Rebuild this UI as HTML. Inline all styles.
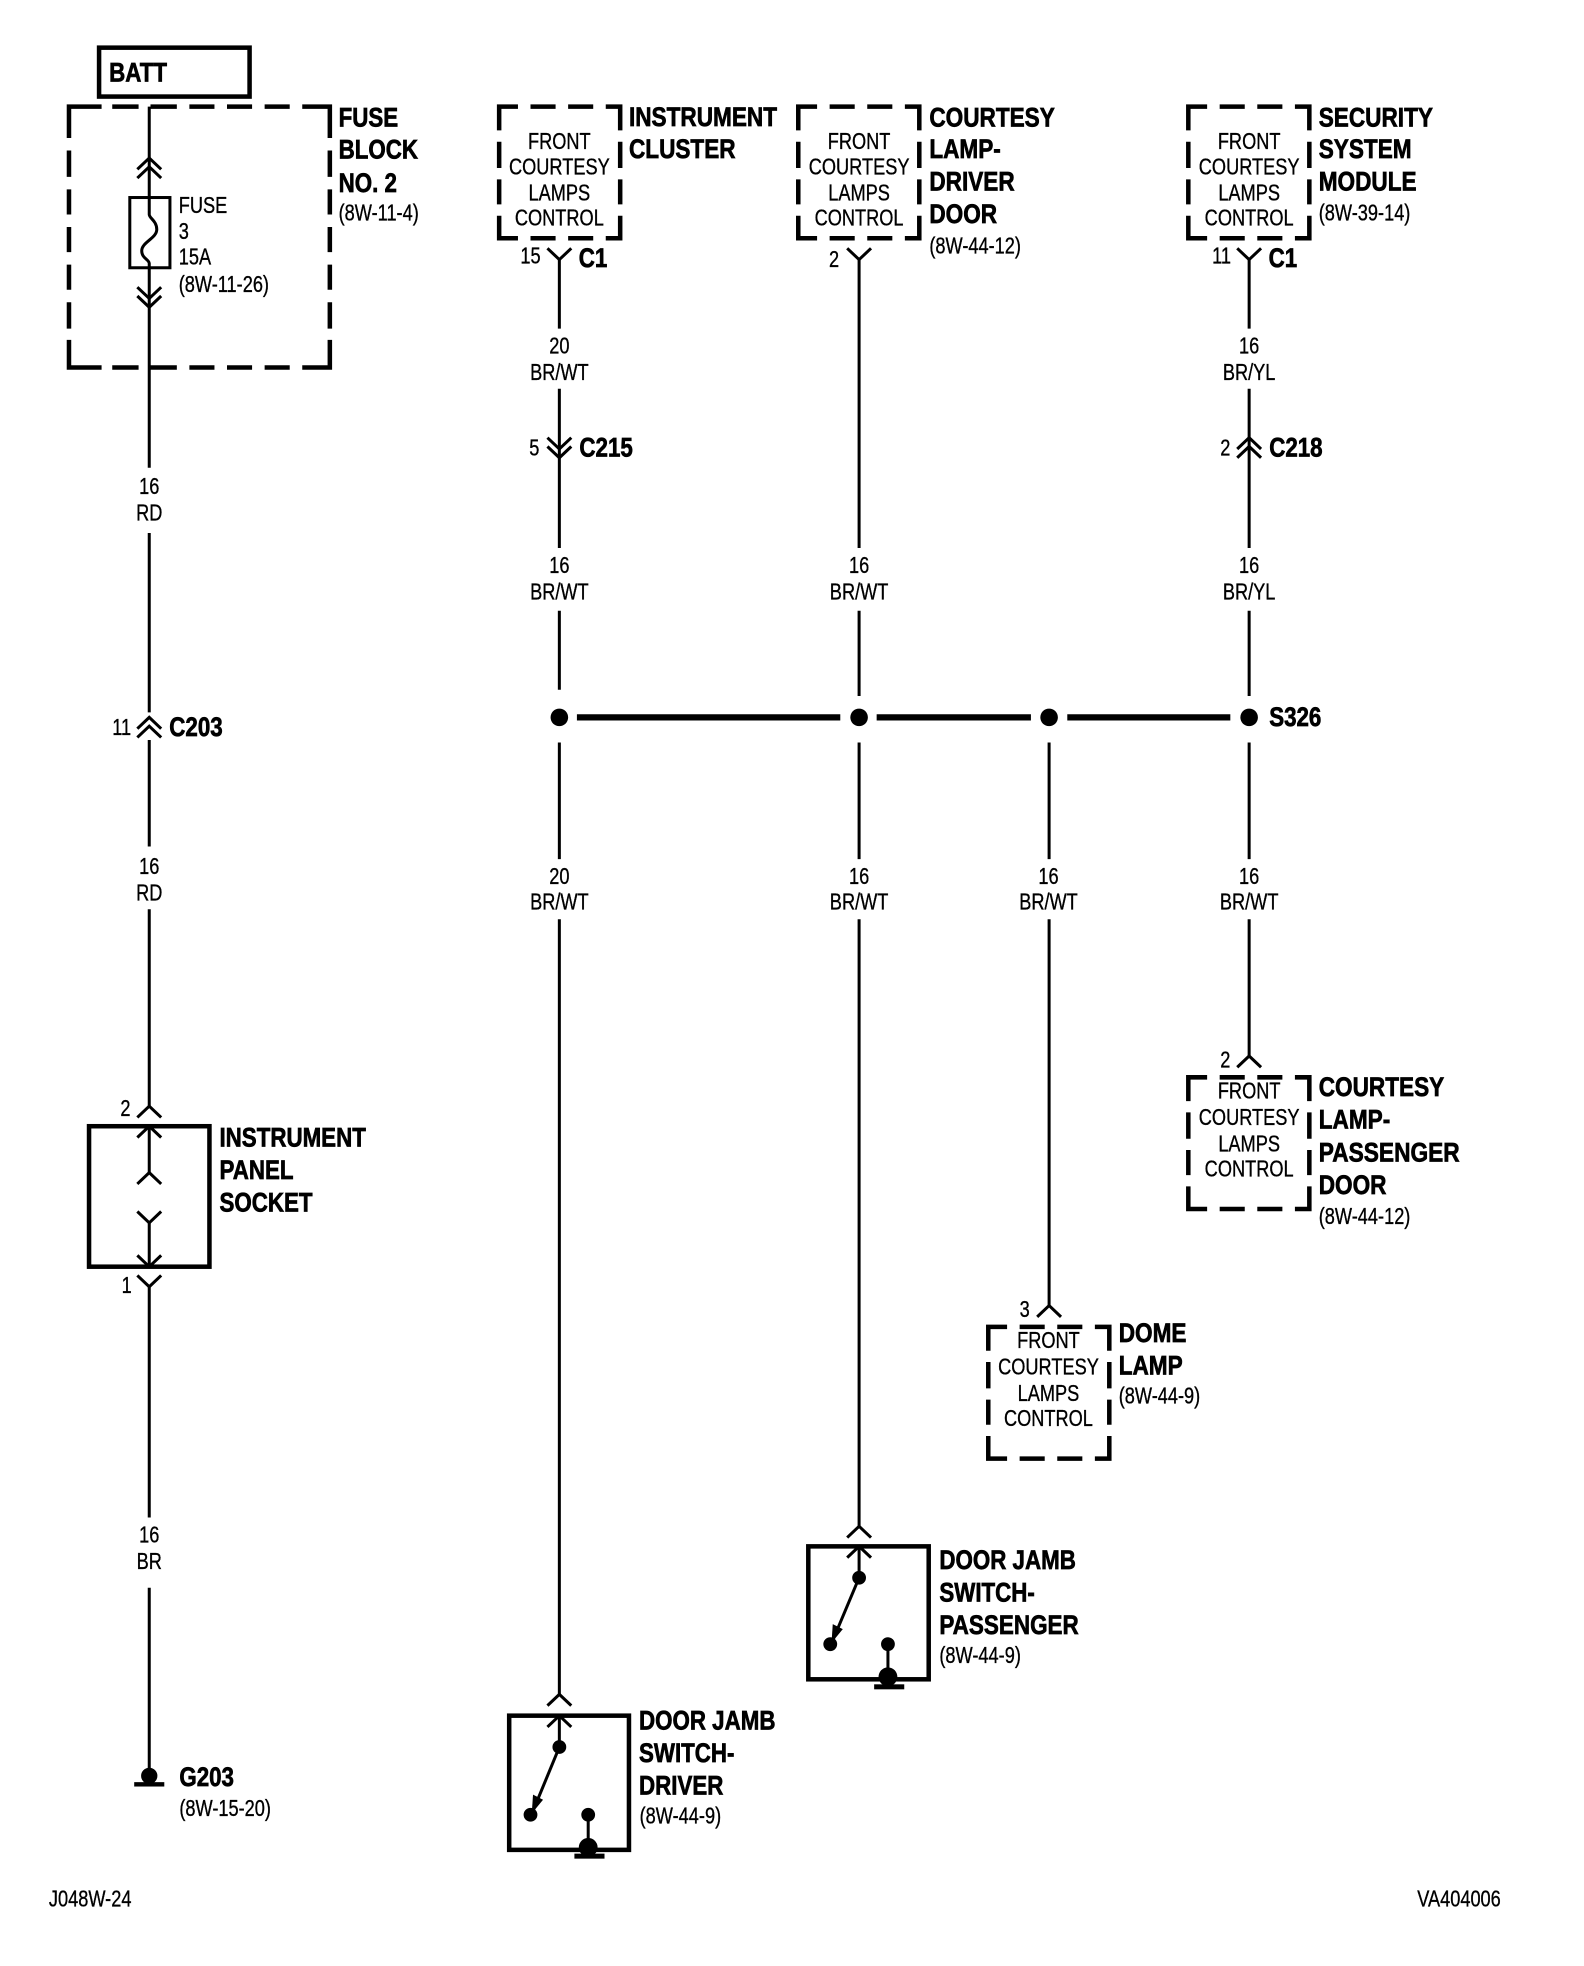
<!DOCTYPE html>
<html><head><meta charset="utf-8"><style>
html,body{margin:0;padding:0;background:#fff}
svg{display:block}
text{fill:#000;font-family:"Liberation Sans",sans-serif}
.b{font-size:21.2px;font-weight:bold;stroke:#000;stroke-width:.55}
.r{font-size:18.6px;stroke:#000;stroke-width:.28}
.m{text-anchor:middle}
.w{fill:none;stroke:#000;stroke-width:2.4}
.a{fill:none;stroke:#000;stroke-width:2.4}
.h{fill:none;stroke:#000;stroke-width:3.6}
.t{fill:none;stroke:#000;stroke-width:5}
</style></head><body>
<svg xmlns="http://www.w3.org/2000/svg" width="1584" height="1966" viewBox="0 0 1263 1567.600" preserveAspectRatio="none">
<defs>
<path id="dbox" d="M0,19V0H15M25,0H45M55,0H75M85,0H96.500V19M96.500,28V49M96.500,58V78M96.500,87V105H85M75,105H55M45,105H25M15,105H0V87M0,78V58M0,49V28" fill="none" stroke="#000" stroke-width="3.6"/>
<path id="up" d="M-9.5,9L0,0L9.5,9" fill="none" stroke="#000" stroke-width="2.4"/>
<path id="dn" d="M-9.5,-9L0,0L9.5,-9" fill="none" stroke="#000" stroke-width="2.4"/>
</defs>
<rect width="1277" height="1585" fill="#fff"/>

<!-- Left column -->
<rect class="h" x="79" y="38" width="120" height="39"/>
<text class="b" transform="matrix(.84 0 0 1 87 65)">BATT</text>
<path class="h" d="M55,110V85H81M89.500,85H110.500M120,85H141M151,85H171M181,85H201M211,85H231M241,85H263V110M263,120V141M263,151V171M263,181V201M263,211V231M263,241V262M263,271V293H241M231,293H211M201,293H181M171,293H151M141,293H120M110.500,293H89.500M81,293H55V271M55,262V241M55,231V211M55,201V181M55,171V151M55,141V120"/>
<text class="b" transform="matrix(.84 0 0 1 270 101)">FUSE</text>
<text class="b" transform="matrix(.84 0 0 1 270 126.500)">BLOCK</text>
<text class="b" transform="matrix(.84 0 0 1 270 153)">NO. 2</text>
<text class="r" transform="matrix(.78 0 0 1 270 176)">(8W-11-4)</text>
<path class="w" d="M119,85V171C119,174 125,176 125,183C125,190 113,193 113,200C113,206 119,207 119,210V373M119,425V568M119,590V675M119,725V882M119,898V935M119,975V1010M119,1026V1210M119,1266V1412"/>
<use href="#up" x="119" y="126"/><use href="#up" x="119" y="133"/>
<use href="#dn" x="119" y="238"/><use href="#dn" x="119" y="245"/>
<rect x="103.500" y="157.500" width="32" height="56" fill="none" stroke="#000" stroke-width="2.400"/>
<text class="r" transform="matrix(.78 0 0 1 142.500 170)">FUSE</text>
<text class="r" transform="matrix(.78 0 0 1 142.500 190.500)">3</text>
<text class="r" transform="matrix(.78 0 0 1 142.500 211)">15A</text>
<text class="r" transform="matrix(.78 0 0 1 142.500 233)">(8W-11-26)</text>
<text class="r m" transform="matrix(.78 0 0 1 119 394)">16</text>
<text class="r m" transform="matrix(.78 0 0 1 119 415)">RD</text>
<use href="#up" x="119" y="572"/><use href="#up" x="119" y="579"/>
<text class="r m" transform="matrix(.78 0 0 1 97 586)">11</text>
<text class="b" transform="matrix(.84 0 0 1 135 587)">C203</text>
<text class="r m" transform="matrix(.78 0 0 1 119 697)">16</text>
<text class="r m" transform="matrix(.78 0 0 1 119 718)">RD</text>
<text class="r m" transform="matrix(.78 0 0 1 100 890)">2</text>
<use href="#up" x="119" y="882"/>
<rect class="h" x="71" y="898" width="96" height="112"/>
<use href="#up" x="119" y="898"/><use href="#up" x="119" y="935"/>
<use href="#dn" x="119" y="975"/><use href="#dn" x="119" y="1010"/>
<use href="#dn" x="119" y="1026"/>
<text class="r m" transform="matrix(.78 0 0 1 101 1031)">1</text>
<text class="b" transform="matrix(.84 0 0 1 175 914)">INSTRUMENT</text>
<text class="b" transform="matrix(.84 0 0 1 175 940)">PANEL</text>
<text class="b" transform="matrix(.84 0 0 1 175 966)">SOCKET</text>
<text class="r m" transform="matrix(.78 0 0 1 119 1230)">16</text>
<text class="r m" transform="matrix(.78 0 0 1 119 1251)">BR</text>
<circle cx="119" cy="1416" r="6.500"/>
<rect x="107" y="1421" width="24" height="3.500"/>
<text class="b" transform="matrix(.84 0 0 1 143 1424)">G203</text>
<text class="r" transform="matrix(.78 0 0 1 143 1448)">(8W-15-20)</text>
<text class="r" transform="matrix(.78 0 0 1 39 1520)">J048W-24</text>
<text class="r" transform="matrix(.78 0 0 1 1130 1520)">VA404006</text>

<!-- Splice bus -->
<path class="t" d="M460,572H670M699,572H822M851,572H981"/>
<circle cx="446" cy="572" r="7"/><circle cx="685" cy="572" r="7"/><circle cx="836.500" cy="572" r="7"/><circle cx="996" cy="572" r="7"/>
<text class="b" transform="matrix(.84 0 0 1 1012 579)">S326</text>

<!-- Column x=446 -->
<use href="#dbox" x="398" y="85"/>
<text class="r m" transform="matrix(.78 0 0 1 446 119)">FRONT</text>
<text class="r m" transform="matrix(.78 0 0 1 446 139)">COURTESY</text>
<text class="r m" transform="matrix(.78 0 0 1 446 160)">LAMPS</text>
<text class="r m" transform="matrix(.78 0 0 1 446 180)">CONTROL</text>
<text class="b" transform="matrix(.85 0 0 1 501.500 100.500)">INSTRUMENT</text>
<text class="b" transform="matrix(.85 0 0 1 501.500 126)">CLUSTER</text>
<use href="#dn" x="446" y="207"/>
<text class="r m" transform="matrix(.78 0 0 1 423 210)">15</text>
<text class="b" transform="matrix(.84 0 0 1 461.500 213)">C1</text>
<path class="w" d="M446,207V262M446,310V365M446,487V550M446,592V685M446,733V1351M446,1368V1393"/>
<text class="r m" transform="matrix(.78 0 0 1 446 282)">20</text>
<text class="r m" transform="matrix(.78 0 0 1 446 303)">BR/WT</text>
<use href="#dn" x="446" y="358"/><use href="#dn" x="446" y="365"/>
<path class="w" d="M446,365V437"/>
<text class="r m" transform="matrix(.78 0 0 1 426 363)">5</text>
<text class="b" transform="matrix(.84 0 0 1 462 364)">C215</text>
<text class="r m" transform="matrix(.78 0 0 1 446 457)">16</text>
<text class="r m" transform="matrix(.78 0 0 1 446 478)">BR/WT</text>
<text class="r m" transform="matrix(.78 0 0 1 446 705)">20</text>
<text class="r m" transform="matrix(.78 0 0 1 446 725)">BR/WT</text>
<use href="#up" x="446" y="1351"/>
<rect class="h" x="406" y="1368" width="95.500" height="107"/>
<use href="#up" x="446" y="1368"/>
<circle cx="446" cy="1393" r="5.500"/>
<path class="w" d="M446,1393L425,1444"/>
<polygon points="424,1446 425,1431 433,1435"/>
<circle cx="423" cy="1447" r="5.500"/>
<circle cx="469" cy="1447" r="5.500"/>
<path class="w" d="M469,1447V1473"/>
<circle cx="469" cy="1473" r="7.500"/>
<rect x="458" y="1478" width="24" height="4"/>
<text class="b" transform="matrix(.84 0 0 1 509.500 1379)">DOOR JAMB</text>
<text class="b" transform="matrix(.84 0 0 1 509.500 1405)">SWITCH-</text>
<text class="b" transform="matrix(.84 0 0 1 509.500 1431)">DRIVER</text>
<text class="r" transform="matrix(.78 0 0 1 510 1454)">(8W-44-9)</text>

<!-- Column x=685 -->
<use href="#dbox" x="636.500" y="85"/>
<text class="r m" transform="matrix(.78 0 0 1 685 119)">FRONT</text>
<text class="r m" transform="matrix(.78 0 0 1 685 139)">COURTESY</text>
<text class="r m" transform="matrix(.78 0 0 1 685 160)">LAMPS</text>
<text class="r m" transform="matrix(.78 0 0 1 685 180)">CONTROL</text>
<text class="b" transform="matrix(.85 0 0 1 741 101)">COURTESY</text>
<text class="b" transform="matrix(.85 0 0 1 741 126)">LAMP-</text>
<text class="b" transform="matrix(.85 0 0 1 741 152)">DRIVER</text>
<text class="b" transform="matrix(.85 0 0 1 741 178)">DOOR</text>
<text class="r" transform="matrix(.78 0 0 1 741 202)">(8W-44-12)</text>
<use href="#dn" x="685" y="207"/>
<text class="r m" transform="matrix(.78 0 0 1 665 213)">2</text>
<path class="w" d="M685,207V437M685,487V555M685,592V685M685,733V1217M685,1233V1258"/>
<text class="r m" transform="matrix(.78 0 0 1 685 457)">16</text>
<text class="r m" transform="matrix(.78 0 0 1 685 478)">BR/WT</text>
<text class="r m" transform="matrix(.78 0 0 1 685 705)">16</text>
<text class="r m" transform="matrix(.78 0 0 1 685 725)">BR/WT</text>
<use href="#up" x="685" y="1217"/>
<rect class="h" x="644.500" y="1233" width="96" height="106"/>
<use href="#up" x="685" y="1233"/>
<circle cx="685" cy="1258" r="5.500"/>
<path class="w" d="M685,1258L664,1308"/>
<polygon points="663,1310 664,1295 672,1299"/>
<circle cx="662" cy="1311" r="5.500"/>
<circle cx="708" cy="1311" r="5.500"/>
<path class="w" d="M708,1311V1337"/>
<circle cx="708" cy="1337" r="7.500"/>
<rect x="697" y="1343" width="24" height="4"/>
<text class="b" transform="matrix(.84 0 0 1 749 1251)">DOOR JAMB</text>
<text class="b" transform="matrix(.84 0 0 1 749 1277)">SWITCH-</text>
<text class="b" transform="matrix(.845 0 0 1 749 1303)">PASSENGER</text>
<text class="r" transform="matrix(.78 0 0 1 749 1326)">(8W-44-9)</text>

<!-- Column x=836 -->
<path class="w" d="M836.500,592V685M836.500,733V1041"/>
<text class="r m" transform="matrix(.78 0 0 1 836 705)">16</text>
<text class="r m" transform="matrix(.78 0 0 1 836 725)">BR/WT</text>
<use href="#up" x="836.500" y="1041"/>
<text class="r m" transform="matrix(.78 0 0 1 817 1050)">3</text>
<use href="#dbox" x="788" y="1058"/>
<text class="r m" transform="matrix(.78 0 0 1 836 1075)">FRONT</text>
<text class="r m" transform="matrix(.78 0 0 1 836 1096)">COURTESY</text>
<text class="r m" transform="matrix(.78 0 0 1 836 1117)">LAMPS</text>
<text class="r m" transform="matrix(.78 0 0 1 836 1137)">CONTROL</text>
<text class="b" transform="matrix(.85 0 0 1 892 1070)">DOME</text>
<text class="b" transform="matrix(.85 0 0 1 892 1096)">LAMP</text>
<text class="r" transform="matrix(.78 0 0 1 892 1119)">(8W-44-9)</text>

<!-- Column x=996 -->
<use href="#dbox" x="947.500" y="85"/>
<text class="r m" transform="matrix(.78 0 0 1 996 119)">FRONT</text>
<text class="r m" transform="matrix(.78 0 0 1 996 139)">COURTESY</text>
<text class="r m" transform="matrix(.78 0 0 1 996 160)">LAMPS</text>
<text class="r m" transform="matrix(.78 0 0 1 996 180)">CONTROL</text>
<text class="b" transform="matrix(.85 0 0 1 1051.500 101)">SECURITY</text>
<text class="b" transform="matrix(.85 0 0 1 1051.500 126)">SYSTEM</text>
<text class="b" transform="matrix(.85 0 0 1 1051.500 152)">MODULE</text>
<text class="r" transform="matrix(.78 0 0 1 1051.500 176)">(8W-39-14)</text>
<use href="#dn" x="996" y="207"/>
<text class="r m" transform="matrix(.78 0 0 1 974 210)">11</text>
<text class="b" transform="matrix(.84 0 0 1 1011.500 213)">C1</text>
<path class="w" d="M996,207V262M996,310V437M996,487V555M996,592V685M996,733V842"/>
<text class="r m" transform="matrix(.78 0 0 1 996 282)">16</text>
<text class="r m" transform="matrix(.78 0 0 1 996 303)">BR/YL</text>
<use href="#up" x="996" y="349"/><use href="#up" x="996" y="356"/>
<text class="r m" transform="matrix(.78 0 0 1 977 363)">2</text>
<text class="b" transform="matrix(.84 0 0 1 1012 364)">C218</text>
<text class="r m" transform="matrix(.78 0 0 1 996 457)">16</text>
<text class="r m" transform="matrix(.78 0 0 1 996 478)">BR/YL</text>
<text class="r m" transform="matrix(.78 0 0 1 996 705)">16</text>
<text class="r m" transform="matrix(.78 0 0 1 996 725)">BR/WT</text>
<use href="#up" x="996" y="842"/>
<text class="r m" transform="matrix(.78 0 0 1 977 851)">2</text>
<use href="#dbox" x="947.500" y="859"/>
<text class="r m" transform="matrix(.78 0 0 1 996 876)">FRONT</text>
<text class="r m" transform="matrix(.78 0 0 1 996 897)">COURTESY</text>
<text class="r m" transform="matrix(.78 0 0 1 996 918)">LAMPS</text>
<text class="r m" transform="matrix(.78 0 0 1 996 938)">CONTROL</text>
<text class="b" transform="matrix(.85 0 0 1 1051.500 874)">COURTESY</text>
<text class="b" transform="matrix(.85 0 0 1 1051.500 900)">LAMP-</text>
<text class="b" transform="matrix(.855 0 0 1 1051.500 926)">PASSENGER</text>
<text class="b" transform="matrix(.85 0 0 1 1051.500 952)">DOOR</text>
<text class="r" transform="matrix(.78 0 0 1 1051.500 976)">(8W-44-12)</text>
</svg>
</body></html>
